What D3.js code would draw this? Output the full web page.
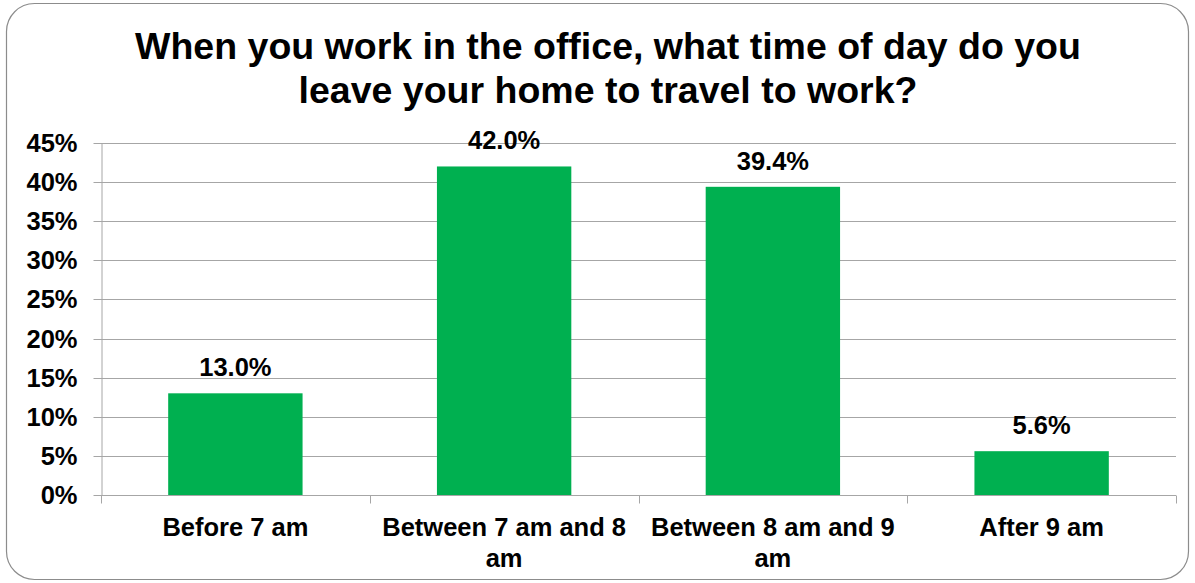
<!DOCTYPE html>
<html>
<head>
<meta charset="utf-8">
<script src="https://cdn.jsdelivr.net/npm/d3@7"></script>
<style>
  html, body { margin: 0; padding: 0; background: #fff; }
  svg { display: block; font-family: "Liberation Sans", Arial, sans-serif; }
</style>
</head>
<body>
<svg id="chart" width="1195" height="583"></svg>
<script>
// Departure-time survey results
const categories = ["Before 7 am", "Between 7 am and 8 am", "Between 8 am and 9 am", "After 9 am"];
const values = [13.0, 42.0, 39.4, 5.6];
const yTicks = [0, 5, 10, 15, 20, 25, 30, 35, 40, 45];
const titleLines = ["When you work in the office, what time of day do you", "leave your home to travel to work?"];

const svg = d3.select("#chart");
const W = 1195, H = 583;
const FONT = "'Liberation Sans', Arial, sans-serif";
const LABEL_SIZE = 25.5;

// Rounded frame
svg.append("rect")
  .attr("x", 6.5).attr("y", 3.5)
  .attr("width", W - 13).attr("height", H - 7)
  .attr("rx", 28).attr("ry", 28)
  .attr("fill", "#fff").attr("stroke", "#8c8c8c").attr("stroke-width", 1.2);

// Title
svg.append("g").selectAll("text").data(titleLines).join("text")
  .attr("x", 608).attr("y", (d, i) => 59 + i * 44)
  .attr("text-anchor", "middle")
  .attr("font-size", 37.5).attr("font-weight", "bold").attr("fill", "#000")
  .text(d => d);

const margin = { left: 101, right: 1176, top: 143, bottom: 495 };

const x = d3.scaleBand().domain(categories).range([margin.left, margin.right]).paddingInner(0.5).paddingOuter(0.25);
const xCat = d3.scaleBand().domain(categories).range([margin.left, margin.right]);
const y = d3.scaleLinear().domain([0, 45]).range([margin.bottom, margin.top]);

// Gridlines
svg.append("g").selectAll("line").data(yTicks.filter(t => t > 0)).join("line")
  .attr("x1", margin.left).attr("x2", margin.right)
  .attr("y1", d => Math.round(y(d)) + 0.5).attr("y2", d => Math.round(y(d)) + 0.5)
  .attr("stroke", "#a6a6a6").attr("stroke-width", 1);

// Y axis
const yAxis = svg.append("g")
  .attr("transform", `translate(${margin.left + 0.5},0)`)
  .call(d3.axisLeft(y).tickValues(yTicks).tickFormat(d => d + "%").tickSize(8).tickSizeOuter(0));
yAxis.select(".domain").attr("stroke", "#a6a6a6");
yAxis.selectAll(".tick line").attr("stroke", "#a6a6a6");
yAxis.selectAll(".tick").attr("transform", d => `translate(0,${Math.round(y(d)) + 0.5})`);
yAxis.selectAll("text")
  .attr("font-size", LABEL_SIZE).attr("font-weight", "bold").attr("fill", "#000")
  .attr("font-family", FONT)
  .attr("x", -24).attr("dy", "0.34em");

// Bars
svg.append("g").selectAll("rect").data(values).join("rect")
  .attr("x", (d, i) => x(categories[i]))
  .attr("width", x.bandwidth())
  .attr("y", d => y(d))
  .attr("height", d => y(0) - y(d))
  .attr("fill", "#00b050");

// X axis baseline and category ticks
const xBase = Math.round(y(0)) + 0.5;
svg.append("line")
  .attr("x1", margin.left).attr("x2", margin.right)
  .attr("y1", xBase).attr("y2", xBase)
  .attr("stroke", "#a6a6a6");
const boundaries = categories.map(c => xCat(c)).concat([margin.right]);
svg.append("g").selectAll("line").data(boundaries).join("line")
  .attr("x1", d => Math.round(d) + 0.5).attr("x2", d => Math.round(d) + 0.5)
  .attr("y1", xBase).attr("y2", xBase + 8)
  .attr("stroke", "#a6a6a6");

// Category labels, wrapped to category width
function wrapLabel(text, maxWidth, fontSize) {
  const ctx = document.createElement("canvas").getContext("2d");
  ctx.font = `bold ${fontSize}px "Liberation Sans", Arial, sans-serif`;
  const words = text.split(" ");
  const lines = [];
  let line = "";
  words.forEach(w => {
    const test = line ? line + " " + w : w;
    if (ctx.measureText(test).width > maxWidth && line) { lines.push(line); line = w; }
    else line = test;
  });
  lines.push(line);
  return lines;
}
const catG = svg.append("g");
categories.forEach(c => {
  const lines = wrapLabel(c, xCat.bandwidth() - 4, LABEL_SIZE);
  const t = catG.append("text")
    .attr("text-anchor", "middle")
    .attr("font-size", LABEL_SIZE).attr("font-weight", "bold").attr("fill", "#000");
  lines.forEach((l, i) => {
    t.append("tspan").attr("x", xCat(c) + xCat.bandwidth() / 2)
      .attr("y", 536 + i * 31).text(l);
  });
});

// Value labels
svg.append("g").selectAll("text").data(values).join("text")
  .attr("x", (d, i) => x(categories[i]) + x.bandwidth() / 2)
  .attr("y", d => y(d) - 17)
  .attr("text-anchor", "middle")
  .attr("font-size", LABEL_SIZE).attr("font-weight", "bold").attr("fill", "#000")
  .text(d => d.toFixed(1) + "%");
</script>
</body>
</html>
